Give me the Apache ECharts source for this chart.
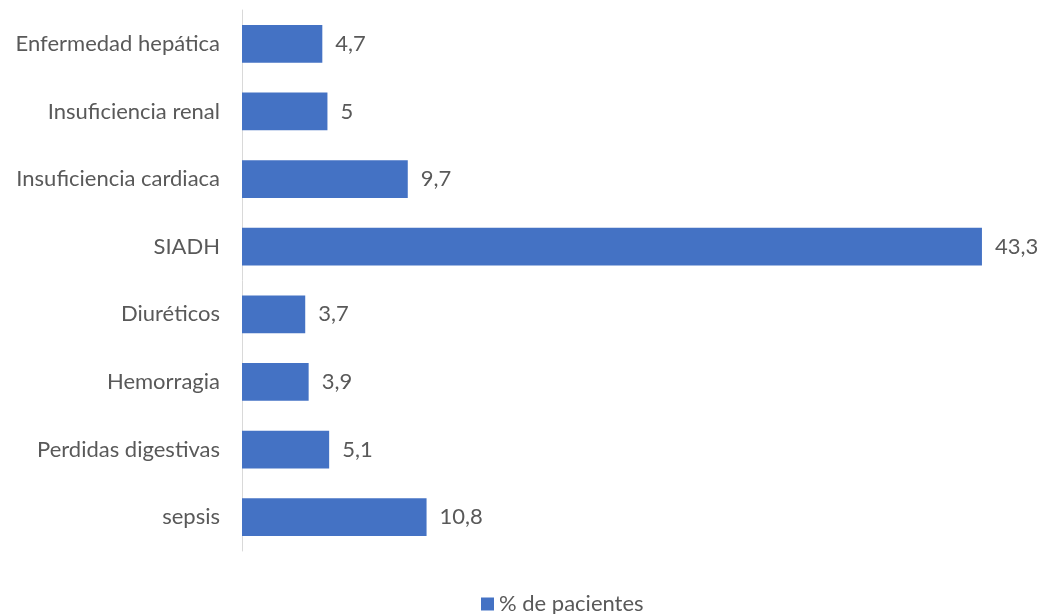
<!DOCTYPE html>
<html><head><meta charset="utf-8">
<script src="https://cdn.jsdelivr.net/npm/echarts@6/dist/echarts.min.js"></script>
<style>html,body{margin:0;padding:0;background:#fff}#c{width:1042px;height:614px}</style>
</head><body><div id="c"></div>
<script>
const categories = ["Enfermedad hepática","Insuficiencia renal","Insuficiencia cardiaca","SIADH","Diuréticos","Hemorragia","Perdidas digestivas","sepsis"];
const values = [4.7, 5, 9.7, 43.3, 3.7, 3.9, 5.1, 10.8];
const seriesName = "% de pacientes";
const FONT = "Lato";
const FS = 22;
const chart = echarts.init(document.getElementById('c'));
chart.setOption({
  animation: false,
  textStyle: {fontFamily: FONT},
  grid: {left: 242, right: 31, top: 10, bottom: 63},
  legend: {top: 588, left: 476, itemWidth: 13, itemHeight: 13, itemGap: 4,
    icon: 'rect', textStyle: {color: '#595959', fontSize: FS, fontFamily: FONT}, data: [seriesName]},
  xAxis: {type: 'value', min: 0, max: 45, show: false},
  yAxis: {type: 'category', data: categories, inverse: true,
    axisLine: {show: true, lineStyle: {color: '#d9d9d9', width: 1}},
    axisTick: {show: false},
    axisLabel: {color: '#595959', fontSize: FS, margin: 22, fontFamily: FONT}},
  series: [{name: seriesName, type: 'bar', data: values, barCategoryGap: '44%',
    itemStyle: {color: '#4472C4'},
    label: {show: true, position: 'right', distance: 13, color: '#595959', fontSize: FS, fontFamily: FONT,
      formatter: p => String(p.value).replace('.', ',')}}]
});
</script></body></html>
